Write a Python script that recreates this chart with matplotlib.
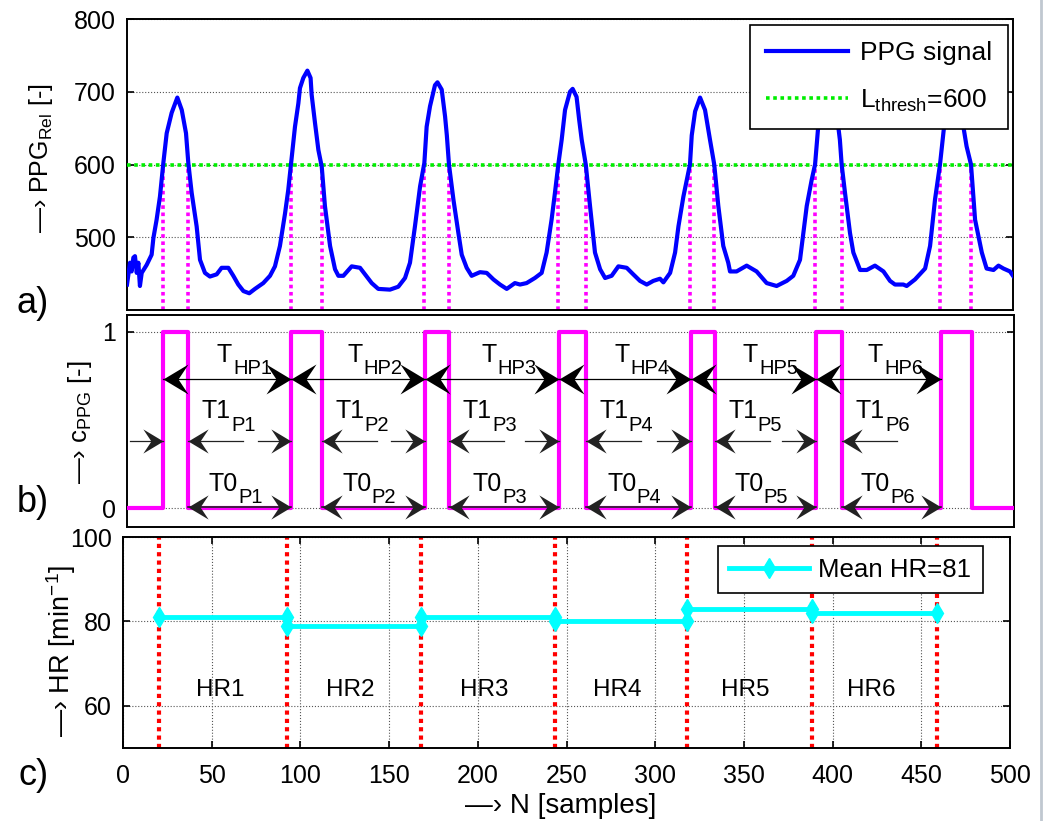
import numpy as np
import matplotlib
matplotlib.use('Agg')
import matplotlib.pyplot as plt
from matplotlib.path import Path
from matplotlib.lines import Line2D
from matplotlib.textpath import TextPath
from matplotlib.font_manager import FontProperties

plt.rcParams['font.family'] = ['Liberation Sans', 'DejaVu Sans']
plt.rcParams['mathtext.fontset'] = 'custom'
plt.rcParams['mathtext.rm'] = 'Liberation Sans'
plt.rcParams['mathtext.it'] = 'Liberation Sans'
plt.rcParams['mathtext.default'] = 'regular'

# PPG signal read off panel a)
ppg_n = [0, 1.7, 2.6, 3.6, 4.5, 5.5, 6.4, 7.3, 8.3, 11.1, 13.9, 14.9, 16.7, 18.6, 20.5, 22.4, 25.2,
         28.4, 30.9, 33.3, 34.6, 36.5, 39.3, 41.2, 44.0, 46.8, 50.6, 53.4, 57.2, 60.0, 62.8, 65.7,
         69.0, 72.2, 76.9, 80.7, 83.5, 86.3, 89.2, 91.0, 92.6, 94.8, 96.7, 97.6, 99.5, 101.8, 103.6,
         104.2, 106.1, 108.0, 109.9, 111.7, 114.6, 117.4, 119.3, 122.1, 126.8, 131.5, 134.3, 138.1,
         141.8, 148.4, 153.1, 156.9, 159.7, 162.5, 165.4, 167.8, 169.1, 171.0, 173.8, 175.2, 177.6,
         179.5, 180.5, 181.7, 184.2, 187.0, 188.9, 191.7, 194.5, 199.2, 203.0, 206.8, 210.5, 214.3,
         218.9, 221.8, 225.5, 230.2, 234.0, 236.8, 239.6, 241.5, 243.4, 245.3, 247.2, 250.0, 251.5,
         253.7, 255.2, 256.6, 258.9, 261.3, 264.1, 267.0, 269.8, 273.5, 277.3, 282.0, 285.7, 289.5,
         293.3, 297.0, 300.8, 302.7, 306.5, 309.3, 311.2, 314.0, 317.7, 318.7, 320.6, 323.4, 326.2,
         329.0, 331.4, 333.7, 336.5, 339.3, 340.3, 344.0, 349.7, 355.3, 361.0, 366.6, 372.3, 376.0,
         379.8, 381.7, 383.6, 386.4, 388.3, 390.0, 392.0, 395.0, 398.0, 400.5, 402.3, 403.3, 405.2,
         408.0, 409.9, 413.7, 417.5, 422.1, 426.9, 430.6, 433.4, 438.1, 440.0, 444.7, 450.4, 453.2,
         456.0, 458.8, 461.1, 464.0, 467.0, 470.0, 472.0, 473.8, 476.3, 478.6, 482.4, 485.1, 489.0,
         491.8, 494.6, 498.3, 500.0]
ppg_v = [435, 465, 453, 472, 474, 451, 465, 433, 451, 462, 476, 499, 524, 556, 602, 643, 671,
         692, 675, 643, 602, 561, 515, 469, 451, 446, 449, 458, 458, 447, 435, 426,
         423, 429, 437, 447, 460, 488, 533, 565, 602, 652, 684, 705, 719, 729, 719,
         696, 657, 620, 597, 543, 488, 456, 447, 447, 460, 458, 449, 437,
         429, 428, 432, 444, 465, 515, 570, 602, 652, 680, 709, 713, 703,
         666, 640, 600, 552, 506, 476, 458, 447, 452, 451, 442, 435, 429,
         437, 435, 437, 444, 451, 479, 524, 561, 600, 634, 675, 700, 704,
         693, 661, 634, 600, 543, 479, 456, 444, 447, 460, 458, 449, 440,
         435, 440, 443, 438, 451, 479, 515, 556, 600, 640, 673, 692, 675,
         634, 600, 543, 488, 465, 453, 453, 461, 453, 437, 433, 440, 447,
         469, 506, 543, 579, 600, 650, 695, 720, 712, 670, 634, 600, 561,
         506, 479, 455, 455, 461, 453, 440, 435, 435, 433, 442, 457, 488,
         552, 600, 652, 700, 718, 690, 652, 625, 600, 524, 479, 457, 455,
         461, 457, 453, 447]

L_thresh = 600
rise = [20.5, 92.6, 167.8, 243.4, 317.7, 388.3, 458.8]   # crossings upward
fall = [34.6, 109.9, 181.7, 258.9, 331.4, 403.3, 476.3]  # crossings downward
hr = [81, 79, 81, 80, 83, 82]
hr_labels = ['HR1', 'HR2', 'HR3', 'HR4', 'HR5', 'HR6']
mean_hr = 81

# arrow heads (tip at origin)
head_r = Path([(0, 0), (-1, 0.6), (-0.6, 0), (-1, -0.6), (0, 0)],
              [Path.MOVETO, Path.LINETO, Path.LINETO, Path.LINETO, Path.CLOSEPOLY])
head_l = Path([(0, 0), (1, 0.6), (0.6, 0), (1, -0.6), (0, 0)],
              [Path.MOVETO, Path.LINETO, Path.LINETO, Path.LINETO, Path.CLOSEPOLY])

def arrow_head(ax, x, y, right, size, col='k'):
    ax.plot([x], [y], ls='none', marker=head_r if right else head_l, ms=size,
            color=col, mew=0, zorder=6, clip_on=False)

def text_width(s, size):
    fp = FontProperties(family='Liberation Sans', size=size)
    return TextPath((0, 0), s, prop=fp).get_extents().width

# label with a large subscript (matlab-like), centred on x
def sub_label(ax, x, y, main, sub, fs=18, sfs=14.5, drop=9):
    wm = text_width(main, fs)
    ws = text_width(sub, sfs)
    x0 = -(wm + 1.5 + ws) / 2
    ax.annotate(main, (x, y), xytext=(x0, 0), textcoords='offset points', fontsize=fs,
                ha='left', va='baseline')
    ax.annotate(sub, (x, y), xytext=(x0 + wm + 1.5, -drop), textcoords='offset points',
                fontsize=sfs, ha='left', va='baseline')

fig = plt.figure(figsize=(10.5, 8.21), dpi=100)
ax1 = fig.add_axes([127/1050, 1-310/821, 886/1050, 291/821])
ax2 = fig.add_axes([127/1050, 1-526.7/821, 887/1050, 211.7/821])
ax3 = fig.add_axes([123/1050, 1-747.7/821, 887/1050, 210.4/821])

tick_fs = 18
dots = (0, (1, 1))

# ---- a) ----
ax1.plot(ppg_n, ppg_v, color='#0000ff', lw=3, label='PPG signal', zorder=4)
ax1.axhline(L_thresh, color='#00ee00', lw=2.6, ls=dots, label='L$_{thresh}$=600', zorder=3)
ax1.vlines(rise + fall, 400, L_thresh, colors='#ff00ff', lw=2.6, linestyles=dots, zorder=2)
ax1.set_xlim(0, 500)
ax1.set_ylim(400, 800)
ax1.set_yticks([500, 600, 700, 800])
ax1.set_xticks([])
ax1.yaxis.grid(True, ls=':', color='#555555', lw=0.8)
leg1 = ax1.legend(loc='upper right', bbox_to_anchor=(0.994, 0.979), fontsize=19,
                  fancybox=False, edgecolor='k', framealpha=1, handlelength=3.1,
                  handletextpad=0.45, labelspacing=0.85, borderpad=0.6, borderaxespad=0)
leg1.get_frame().set_linewidth(1.2)
leg1.set_zorder(10)
ax1.set_ylabel('—› PPG$_{Rel}$ [-]', fontsize=18, va='baseline')
ax1.yaxis.set_label_coords(-0.089, 0.52)

# ---- b) ----
step_x = [0]
step_y = [0]
for r, f in zip(rise, fall):
    step_x += [r, r, f, f]
    step_y += [0, 1, 1, 0]
step_x.append(500)
step_y.append(0)
ax2.plot(step_x, step_y, color='#ff00ff', lw=3, zorder=3)
ax2.set_xlim(0, 500)
ax2.set_ylim(-0.104, 1.094)
ax2.set_yticks([0, 1])
ax2.set_xticks([])
ax2.yaxis.grid(True, ls=':', color='#555555', lw=0.8)

y_hp, y_t1, y_t0 = 0.73, 0.38, 0.01
for i in range(6):
    # T_HP: rising edge to next rising edge
    ax2.plot([rise[i], rise[i+1]], [y_hp, y_hp], color='k', lw=0.9, zorder=5)
    arrow_head(ax2, rise[i], y_hp, False, 36)
    arrow_head(ax2, rise[i+1], y_hp, True, 36)
    sub_label(ax2, (rise[i] + rise[i+1]) / 2 + 9, 0.83, 'T', 'HP%d' % (i+1))
    # T1: arrows from outside pointing at the pulse edges
    ax2.plot([rise[i] - 19, rise[i]], [y_t1, y_t1], color='#222222', lw=0.9, zorder=5)
    ax2.plot([fall[i], fall[i] + 31], [y_t1, y_t1], color='#222222', lw=0.9, zorder=5)
    arrow_head(ax2, rise[i], y_t1, True, 29, '#222222')
    arrow_head(ax2, fall[i], y_t1, False, 29, '#222222')
    sub_label(ax2, fall[i] + 22, 0.51, 'T1', 'P%d' % (i+1))
    # T0: falling edge to next rising edge
    ax2.plot([fall[i], rise[i+1]], [y_t0, y_t0], color='#222222', lw=1.2, zorder=5)
    arrow_head(ax2, fall[i], y_t0, False, 29, '#222222')
    arrow_head(ax2, rise[i+1], y_t0, True, 29, '#222222')
    sub_label(ax2, (fall[i] + rise[i+1]) / 2 - 3, 0.1, 'T0', 'P%d' % (i+1))
ax2.set_ylabel('—› c$_{PPG}$ [-]', fontsize=18.5, va='baseline')
ax2.yaxis.set_label_coords(-0.045, 0.492)

# ---- c) ----
for r in rise:
    ax3.axvline(r, color='#ff0000', lw=3, ls=dots, zorder=2)
for i in range(6):
    ax3.plot([rise[i], rise[i+1]], [hr[i], hr[i]], color='#00ffff', lw=3.5, marker='d', ms=10,
             mew=1, zorder=4, label='Mean HR=%d' % mean_hr if i == 0 else None)
    ax3.text((rise[i] + rise[i+1]) / 2 - 2, 62.4, hr_labels[i], fontsize=17.5,
             ha='center', va='baseline')
ax3.set_xlim(0, 500)
ax3.set_ylim(50, 100)
ax3.set_yticks([60, 80, 100])
ax3.set_xticks(np.arange(0, 501, 50))
ax3.grid(True, ls=':', color='#555555', lw=0.8)
leg3 = ax3.legend(loc='upper right', bbox_to_anchor=(0.9696, 0.9587), fontsize=18.6,
                  fancybox=False, edgecolor='k', framealpha=1, handlelength=3.1,
                  handletextpad=0.35, borderpad=0.45, borderaxespad=0)
leg3.get_frame().set_linewidth(1.2)
leg3.set_zorder(10)
ax3.set_ylabel('—› HR [min$^{-1}$]', fontsize=19.5, va='baseline')
ax3.yaxis.set_label_coords(-0.06, 0.457)
ax3.set_xlabel('—› N [samples]', fontsize=20, va='baseline')
ax3.xaxis.set_label_coords(0.494, -0.31)

for ax in (ax1, ax2, ax3):
    ax.tick_params(direction='in', length=5, width=1.2, labelsize=tick_fs,
                   right=True, top=True)
    for s in ax.spines.values():
        s.set_linewidth(1.4)
    ax.tick_params(axis='y', pad=8)
ax3.tick_params(axis='x', pad=12)

# panel letters
fig.text(17/1050, 1-313/821, 'a)', fontsize=26, va='baseline')
fig.text(17/1050, 1-512/821, 'b)', fontsize=26, va='baseline')
fig.text(18/1050, 1-785/821, 'c)', fontsize=26, va='baseline')

fig.add_artist(Line2D([1041/1050, 1041/1050], [0, 1], color='#c0c8d0', lw=2))

fig.savefig('out.png', dpi=100)
